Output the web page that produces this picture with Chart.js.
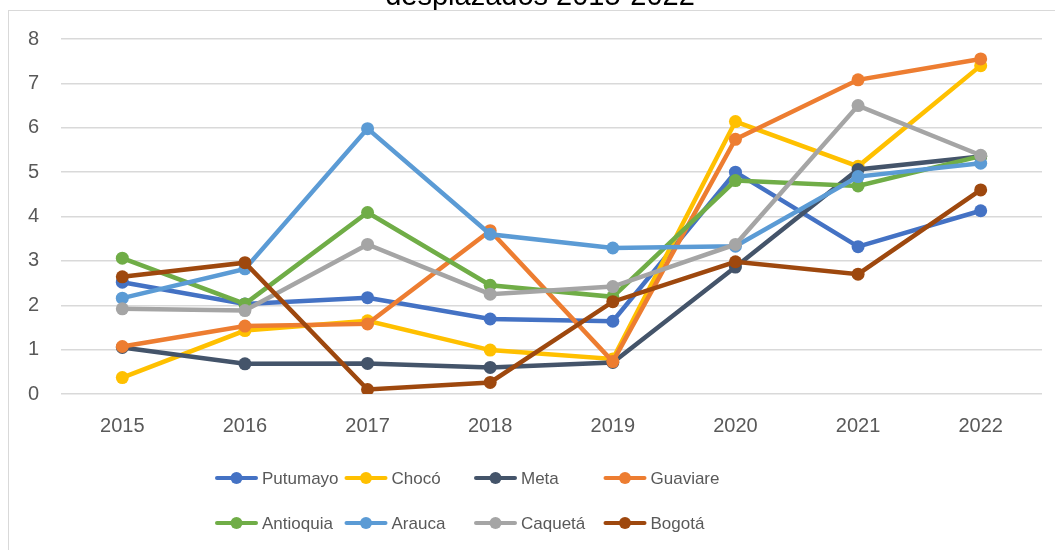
<!DOCTYPE html>
<html>
<head>
<meta charset="utf-8">
<script src="https://cdn.jsdelivr.net/npm/chart.js@4/dist/chart.umd.min.js"></script>
<style>
  html, body { margin: 0; padding: 0; background: #fff; }
  #wrap { position: relative; width: 1055px; height: 550px; overflow: hidden; }
  #chart { position: absolute; left: 0; top: -30px; }
  #frame {
    position: absolute; left: 8px; top: 10px; width: 1100px; height: 600px;
    border-left: 1px solid #d9d9d9; border-top: 1px solid #d9d9d9;
    pointer-events: none;
  }
</style>
</head>
<body>
<div id="wrap">
  <canvas id="chart" width="1055" height="580"></canvas>
  <div id="frame"></div>
</div>
<script>
// values
const years = ["2015", "2016", "2017", "2018", "2019", "2020", "2021", "2022"];
const putumayo = [2.52, 2.03, 2.17, 1.69, 1.64, 5.0, 3.32, 4.13];
const choco = [0.37, 1.43, 1.65, 0.99, 0.79, 6.14, 5.13, 7.4];
const meta = [1.05, 0.68, 0.69, 0.6, 0.71, 2.86, 5.06, 5.35];
const guaviare = [1.07, 1.53, 1.58, 3.68, 0.73, 5.74, 7.08, 7.55];
const antioquia = [3.06, 2.03, 4.09, 2.45, 2.19, 4.81, 4.69, 5.36];
const arauca = [2.16, 2.82, 5.98, 3.6, 3.29, 3.33, 4.9, 5.2];
const caqueta = [1.92, 1.88, 3.37, 2.25, 2.42, 3.37, 6.5, 5.38];
const bogota = [2.64, 2.96, 0.1, 0.26, 2.08, 2.98, 2.7, 4.6];

const seriesNames = ["Putumayo", "Chocó", "Meta", "Guaviare", "Antioquia", "Arauca", "Caquetá", "Bogotá"];
const seriesValues = [putumayo, choco, meta, guaviare, antioquia, arauca, caqueta, bogota];
const seriesColors = ["#4472C4", "#FFC000", "#44546A", "#ED7D31", "#70AD47", "#5B9BD5", "#A5A5A5", "#9E480E"];
const titleText = "desplazados 2015-2022";

const FONT = "'Liberation Sans', Arial, sans-serif";
const TEXT = "#595959";

// title sits mostly above the visible area (cropped like the original screenshot)
const titlePlugin = {
  id: "cutTitle",
  afterDraw(chart) {
    const ctx = chart.ctx;
    ctx.save();
    ctx.fillStyle = "#000";
    ctx.font = "29px " + FONT;
    ctx.textAlign = "center";
    ctx.textBaseline = "alphabetic";
    ctx.fillText(titleText, 540, 35);
    ctx.restore();
  },
};

// excel-style legend: 4 fixed columns, 2 rows
const legendPlugin = {
  id: "excelLegend",
  afterDraw(chart) {
    const ctx = chart.ctx;
    ctx.save();
    chart.data.datasets.forEach((ds, i) => {
      const col = i % 4;
      const row = Math.floor(i / 4);
      const x = 215 + col * 129.5;
      const y = 508 + row * 45;
      ctx.strokeStyle = ds.borderColor;
      ctx.lineWidth = 4;
      ctx.lineCap = "round";
      ctx.beginPath();
      ctx.moveTo(x + 2, y);
      ctx.lineTo(x + 41, y);
      ctx.stroke();
      ctx.fillStyle = ds.borderColor;
      ctx.beginPath();
      ctx.arc(x + 21.5, y, 6, 0, Math.PI * 2);
      ctx.fill();
      ctx.fillStyle = TEXT;
      ctx.font = "17px " + FONT;
      ctx.textBaseline = "middle";
      ctx.textAlign = "left";
      ctx.fillText(ds.label, x + 47, y + 1);
    });
    ctx.restore();
  },
};

const datasets = seriesNames.map((name, i) => ({
  label: name,
  data: seriesValues[i],
  borderColor: seriesColors[i],
  backgroundColor: seriesColors[i],
  pointBackgroundColor: seriesColors[i],
  pointBorderWidth: 0,
  pointRadius: 6.5,
  borderWidth: 4.5,
  tension: 0,
  order: seriesNames.length - i, // later series on top, like Excel
}));

new Chart(document.getElementById("chart"), {
  type: "line",
  data: { labels: years, datasets },
  plugins: [titlePlugin, legendPlugin],
  options: {
    responsive: false,
    animation: false,
    layout: { padding: { left: 0, right: 13, top: 69, bottom: 96 } },
    plugins: {
      legend: { display: false },
      tooltip: { enabled: false },
      title: { display: false },
    },
    scales: {
      x: {
        offset: true,
        grid: { display: false },
        border: { display: false },
        ticks: { color: TEXT, font: { family: FONT, size: 20 }, padding: 12, maxRotation: 0 },
        afterFit: (s) => { s.height = 60; },
      },
      y: {
        min: 0,
        max: 8,
        ticks: { stepSize: 1, color: TEXT, font: { family: FONT, size: 20 }, padding: 22 },
        grid: { color: "#d9d9d9", lineWidth: 1.5, drawTicks: false },
        border: { display: false },
        afterFit: (s) => { s.width = 61; },
      },
    },
  },
});
</script>
</body>
</html>
